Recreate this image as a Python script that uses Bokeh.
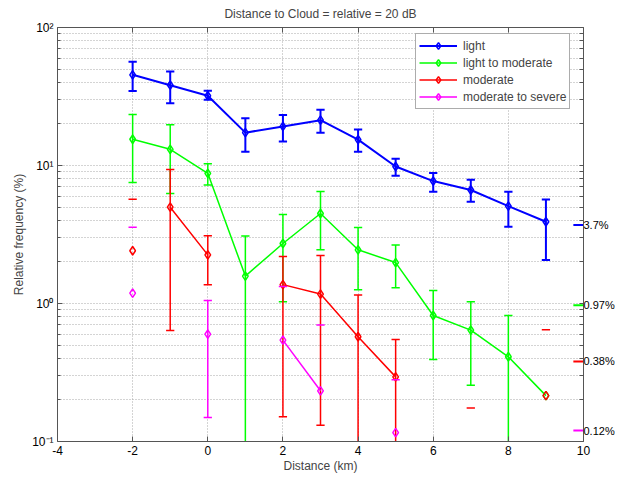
import numpy as np
from bokeh.plotting import figure
from bokeh.models import (FixedTicker, LogAxis, LinearAxis, Legend, LegendItem,
                          Range1d)
from bokeh.embed import file_html
from bokeh.resources import INLINE

nan = float("nan")

title_text = "Distance to Cloud = relative = 20 dB"
x_label = "Distance (km)"
y_label = "Relative frequency (%)"

distance = [-2, -1, 0, 1, 2, 3, 4, 5, 6, 7, 8, 9]

light = [45.4, 38.2, 32.0, 17.3, 19.2, 21.3, 15.4, 9.84, 7.71, 6.64, 5.08, 3.91]
light_hi = [56.4, 48.0, 34.8, 22.0, 23.2, 25.3, 18.2, 11.2, 8.81, 7.88, 6.45, 5.67]
light_lo = [34.6, 28.3, 29.9, 12.6, 14.9, 17.3, 12.6, 8.42, 6.45, 5.46, 3.60, 2.07]
light_runs = [(-2, 9)]

light_mod = [15.5, 13.1, 8.77, 1.58, 2.72, 4.49, 2.45, 1.98, 0.819, 0.641, 0.411, 0.215]
light_mod_hi = [23.4, 19.7, 10.3, 3.08, 4.41, 6.49, 3.56, 2.65, 1.24, 1.03, 0.819, nan]
light_mod_lo = [7.53, 6.27, 7.21, 0.05, 1.03, 2.45, 1.26, 1.30, 0.393, 0.256, 0.05, nan]
light_mod_runs = [(-2, 9)]

moderate = [2.41, 4.99, 2.25, nan, 1.37, 1.17, 0.574, 0.294, nan, 0.06, nan, 0.215]
moderate_hi = [5.70, 9.36, 3.10, nan, 2.19, 2.23, 1.15, 0.548, nan, 0.175, nan, 0.645]
moderate_lo = [0, 0.637, 1.37, nan, 0.151, 0.131, 0.05, 0.05, nan, 0, nan, 0]
moderate_runs = [(-1, 0), (2, 5)]

severe = [1.19, nan, 0.60, nan, 0.543, 0.233, nan, 0.116, nan, nan, nan, nan]
severe_hi = [3.57, nan, 1.05, nan, 1.33, 0.70, nan, 0.28, nan, nan, nan, nan]
severe_lo = [0, nan, 0.149, nan, 0, 0, nan, 0, nan, nan, nan, nan]
severe_runs = [(2, 3)]

series_names = ["light", "light to moderate", "moderate", "moderate to severe"]
series_colors = ["#0000ff", "#00ff00", "#ff0000", "#ff00ff"]

side_values = [3.7, 0.97, 0.38, 0.12]
side_texts = ["3.7%", "0.97%", "0.38%", "0.12%"]

x_ticks = [-4, -2, 0, 2, 4, 6, 8, 10]
x_tick_labels = ["-4", "-2", "0", "2", "4", "6", "8", "10"]
y_ticks = [0.1, 1, 10, 100]
y_tick_labels = ["10\u207b\u00b9", "10\u2070", "10\u00b9", "10\u00b2"]
y_minor = [m * d for d in (0.1, 1, 10) for m in range(2, 10)]

FONT = "Liberation Sans"
AXIS_COLOR = "#555555"
GRID_COLOR = "#a8a8a8"
CAP = 0.11

p = figure(width=623, height=477, output_backend="svg", toolbar_location=None,
           x_range=Range1d(-4, 10), y_range=Range1d(0.1, 100), y_axis_type="log",
           min_border_left=57, min_border_right=40, min_border_top=27,
           min_border_bottom=36, title=title_text)
p.outline_line_color = None
p.background_fill_color = "white"
p.border_fill_color = "white"

p.title.align = "center"
p.title.text_font = FONT
p.title.text_font_size = "12px"
p.title.text_font_style = "normal"
p.title.vertical_align = "top"
p.title.standoff = 10

xt = FixedTicker(ticks=x_ticks)
yt = FixedTicker(ticks=y_ticks, minor_ticks=y_minor)


def style_ticks(ax):
    ax.axis_line_color = AXIS_COLOR
    ax.major_tick_line_color = AXIS_COLOR
    ax.minor_tick_line_color = AXIS_COLOR
    ax.major_tick_in = 5
    ax.major_tick_out = 0
    ax.minor_tick_in = 3
    ax.minor_tick_out = 0
    ax.major_label_text_font = FONT
    ax.major_label_text_color = "black"
    ax.major_label_text_font_size = "12px"
    ax.major_label_standoff = 4


xaxis = p.below[0]
xaxis.ticker = xt
style_ticks(xaxis)
xaxis.major_label_overrides = {t: l for t, l in zip(x_ticks, x_tick_labels)}
xaxis.axis_label = x_label
xaxis.axis_label_text_font = FONT
xaxis.axis_label_text_font_size = "12px"
xaxis.axis_label_text_font_style = "normal"
xaxis.axis_label_standoff = 1

yaxis = p.left[0]
yaxis.ticker = yt
style_ticks(yaxis)
yaxis.major_label_overrides = {t: l for t, l in zip(y_ticks, y_tick_labels)}
yaxis.axis_label = y_label
yaxis.axis_label_text_font = FONT
yaxis.axis_label_text_font_size = "12px"
yaxis.axis_label_text_font_style = "normal"
yaxis.axis_label_standoff = 3

# top edge of the box: ticks only (as minor ticks, so no labels are made)
top_axis = LinearAxis(ticker=FixedTicker(ticks=[], minor_ticks=x_ticks))
style_ticks(top_axis)
top_axis.minor_tick_in = 5
p.add_layout(top_axis, "above")

# right edge of the box: decade/minor ticks plus the percentage labels
right_axis = LogAxis(ticker=FixedTicker(ticks=side_values, minor_ticks=y_ticks + y_minor))
style_ticks(right_axis)
right_axis.major_tick_line_color = None
right_axis.major_tick_in = 0
right_axis.minor_tick_in = 4
right_axis.major_label_standoff = 0
right_axis.major_label_text_font_size = "11px"
right_axis.major_label_overrides = {v: t for v, t in zip(side_values, side_texts)}
p.add_layout(right_axis, "right")

p.xgrid.ticker = xt
p.xgrid.grid_line_color = GRID_COLOR
p.xgrid.grid_line_dash = "1 2"
p.ygrid.ticker = yt
p.ygrid.grid_line_color = GRID_COLOR
p.ygrid.grid_line_dash = "1 2"
p.ygrid.minor_grid_line_color = GRID_COLOR
p.ygrid.minor_grid_line_dash = "1 2"

legend_items = []


def draw_series(vals, hi, lo, runs, color, lw, name):
    xs_line, ys_line = [], []
    for a, b in runs:
        for x, v in zip(distance, vals):
            if a <= x <= b and np.isfinite(v):
                xs_line.append(x)
                ys_line.append(v)
        xs_line.append(nan)
        ys_line.append(nan)
    vx, vy0, vy1 = [], [], []
    cx0, cx1, cy = [], [], []
    for x, v, h, l in zip(distance, vals, hi, lo):
        if not np.isfinite(h):
            continue
        cx0.append(x - CAP)
        cx1.append(x + CAP)
        cy.append(h)
        if np.isfinite(l) and l > 0:
            vx.append(x)
            vy0.append(l)
            vy1.append(h)
            cx0.append(x - CAP)
            cx1.append(x + CAP)
            cy.append(l)
    if vx:
        p.segment(x0=np.array(vx, float), y0=np.array(vy0, float),
                  x1=np.array(vx, float), y1=np.array(vy1, float),
                  line_color=color, line_width=lw)
    p.segment(x0=np.array(cx0, float), y0=np.array(cy, float),
              x1=np.array(cx1, float), y1=np.array(cy, float),
              line_color=color, line_width=lw)
    line_r = p.line(np.array(xs_line, float), np.array(ys_line, float),
                    line_color=color, line_width=lw)
    px = [x for x, v in zip(distance, vals) if np.isfinite(v)]
    py = [v for v in vals if np.isfinite(v)]
    pts_r = p.scatter(np.array(px, float), np.array(py, float), marker="diamond",
                      size=8.5, fill_color=None, line_color=color, line_width=1.5)
    legend_items.append(LegendItem(label=name, renderers=[line_r, pts_r]))


all_series = [
    (light, light_hi, light_lo, light_runs, 2.0),
    (light_mod, light_mod_hi, light_mod_lo, light_mod_runs, 1.5),
    (moderate, moderate_hi, moderate_lo, moderate_runs, 1.5),
    (severe, severe_hi, severe_lo, severe_runs, 1.5),
]
for (vals, hi, lo, runs, lw), color, name in zip(all_series, series_colors, series_names):
    draw_series(vals, hi, lo, runs, color, lw, name)

# coloured side markers at the right edge
x_end = p.x_range.end
p.segment(x0=[x_end - 0.27] * len(side_values), x1=[x_end] * len(side_values),
          y0=side_values, y1=side_values, line_color=series_colors, line_width=2)

legend = Legend(items=legend_items, location=(358, 332))
legend.label_text_font = FONT
legend.label_text_font_size = "12px"
legend.glyph_width = 38
legend.glyph_height = 17
legend.label_height = 17
legend.label_standoff = 6
legend.spacing = 0
legend.padding = 3
legend.margin = 0
legend.border_line_color = "#5a5a5a"
legend.border_line_width = 1
legend.background_fill_color = "white"
legend.background_fill_alpha = 1.0
p.add_layout(legend, "center")

open("out.html", "w").write(file_html(p, INLINE))
